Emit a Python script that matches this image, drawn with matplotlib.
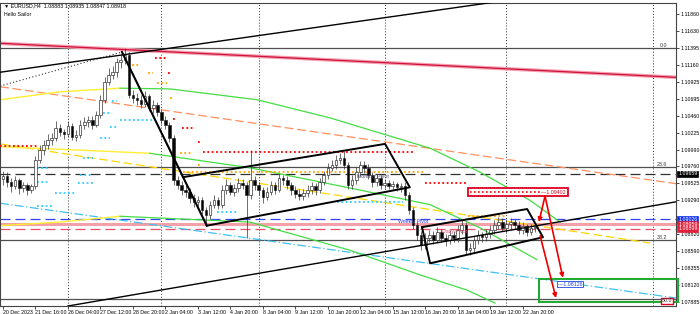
import matplotlib.pyplot as plt
from matplotlib.patches import Rectangle

plt.rcParams['font.family'] = ['Liberation Sans', 'DejaVu Sans']

# ---- candles (EURUSD H4), open = previous close ----
first_open = 1.0958
closes = [1.0963, 1.0954, 1.0949, 1.0957, 1.0946, 1.0950, 1.0943, 1.0949, 1.0985, 1.0999,
          1.1005, 1.1012, 1.1015, 1.1029, 1.1023, 1.1021, 1.1032, 1.1017, 1.1019, 1.1033,
          1.1037, 1.1040, 1.1033, 1.1047, 1.1068, 1.1093, 1.1102, 1.1106, 1.1120, 1.1123,
          1.1130, 1.1075, 1.1070, 1.1068, 1.1062, 1.1073, 1.1057, 1.1061, 1.1051, 1.1040,
          1.1033, 1.1015, 1.0957, 1.0950, 1.0943, 1.0941, 1.0932, 1.0927, 1.0929, 1.0916,
          1.0909, 1.0923, 1.0929, 1.0923, 1.0943, 1.0950, 1.0941, 1.0946, 1.0953, 1.0950,
          1.0936, 1.0957, 1.0950, 1.0943, 1.0934, 1.0941, 1.0950, 1.0943, 1.0960, 1.0957,
          1.0950, 1.0943, 1.0938, 1.0935, 1.0939, 1.0943, 1.0949, 1.0943, 1.0954, 1.0964,
          1.0974, 1.0978, 1.0985, 1.0988, 1.0978, 1.0950, 1.0957, 1.0968, 1.0978, 1.0974,
          1.0964, 1.0954, 1.0960, 1.0950, 1.0953, 1.0949, 1.0952, 1.0947, 1.0949, 1.0936,
          1.0916, 1.0895, 1.0881, 1.0867, 1.0877, 1.0881, 1.0874, 1.0885, 1.0877, 1.0874,
          1.0881, 1.0877, 1.0888, 1.0895, 1.0860, 1.0863, 1.0874, 1.0881, 1.0878, 1.0882,
          1.0888, 1.0895, 1.0899, 1.0891, 1.0896, 1.0899, 1.0895, 1.0888, 1.0894, 1.0885,
          1.0891, 1.0892]
highs = [1.0970, 1.0968, 1.0960, 1.0962, 1.0960, 1.0955, 1.0953, 1.0952, 1.0990, 1.1005,
         1.1012, 1.1020, 1.1022, 1.1038, 1.1034, 1.1028, 1.1038, 1.1036, 1.1026, 1.1040,
         1.1044, 1.1046, 1.1045, 1.1052, 1.1074, 1.1100, 1.1112, 1.1114, 1.1126, 1.1130,
         1.1139, 1.1134, 1.1082, 1.1078, 1.1074, 1.1080, 1.1076, 1.1068, 1.1065, 1.1055,
         1.1046, 1.1037, 1.1019, 1.0963, 1.0956, 1.0950, 1.0946, 1.0938, 1.0935, 1.0933,
         1.0920, 1.0928, 1.0936, 1.0934, 1.0950, 1.0958, 1.0955, 1.0952, 1.0960, 1.0958,
         1.0954, 1.0999, 1.0962, 1.0955, 1.0947, 1.0948, 1.0956, 1.0954, 1.0966, 1.0964,
         1.0962, 1.0955, 1.0949, 1.0944, 1.0945, 1.0950, 1.0955, 1.0953, 1.0960, 1.0970,
         1.0981, 1.0985, 1.0992, 1.0994, 1.0997, 1.0982, 1.0964, 1.0975, 1.0984, 1.0983,
         1.0979, 1.0968, 1.0966, 1.0964, 1.0958, 1.0957, 1.0956, 1.0955, 1.0953, 1.0954,
         1.0940, 1.0920, 1.0899, 1.0886, 1.0884, 1.0888, 1.0886, 1.0892, 1.0889, 1.0882,
         1.0888, 1.0886, 1.0895, 1.0903, 1.0899, 1.0870, 1.0880, 1.0888, 1.0885, 1.0889,
         1.0895, 1.0902, 1.0906, 1.0904, 1.0903, 1.0905, 1.0903, 1.0900, 1.0899, 1.0897,
         1.0896, 1.0894]
lows = [1.0950, 1.0948, 1.0940, 1.0945, 1.0938, 1.0941, 1.0937, 1.0939, 1.0945, 1.0980,
        1.0992, 1.1000, 1.1006, 1.1011, 1.1018, 1.1014, 1.1016, 1.1012, 1.1011, 1.1015,
        1.1028, 1.1031, 1.1028, 1.1030, 1.1043, 1.1064, 1.1088, 1.1096, 1.1100, 1.1112,
        1.1118, 1.1070, 1.1063, 1.1061, 1.1056, 1.1058, 1.1052, 1.1050, 1.1046, 1.1034,
        1.1027, 1.1010, 1.0950, 1.0944, 1.0937, 1.0934, 1.0926, 1.0920, 1.0921, 1.0910,
        1.0894, 1.0903, 1.0918, 1.0917, 1.0919, 1.0938, 1.0936, 1.0935, 1.0941, 1.0944,
        1.0877, 1.0931, 1.0943, 1.0937, 1.0926, 1.0929, 1.0936, 1.0938, 1.0940, 1.0950,
        1.0945, 1.0936, 1.0932, 1.0929, 1.0930, 1.0934, 1.0938, 1.0937, 1.0939, 1.0950,
        1.0959, 1.0969, 1.0972, 1.0979, 1.0972, 1.0944, 1.0945, 1.0952, 1.0962, 1.0967,
        1.0958, 1.0948, 1.0949, 1.0944, 1.0946, 1.0944, 1.0945, 1.0942, 1.0941, 1.0930,
        1.0910, 1.0889, 1.0874, 1.0861, 1.0862, 1.0872, 1.0868, 1.0870, 1.0871, 1.0866,
        1.0869, 1.0871, 1.0872, 1.0883, 1.0855, 1.0853, 1.0858, 1.0869, 1.0872, 1.0873,
        1.0877, 1.0883, 1.0890, 1.0886, 1.0885, 1.0890, 1.0889, 1.0882, 1.0883, 1.0880,
        1.0881, 1.0885]

x_labels = ['20 Dec 2023', '21 Dec 16:00', '26 Dec 04:00', '27 Dec 12:00', '28 Dec 20:00',
            '2 Jan 04:00', '3 Jan 12:00', '4 Jan 20:00', '8 Jan 04:00', '9 Jan 12:00',
            '10 Jan 20:00', '12 Jan 04:00', '15 Jan 12:00', '16 Jan 20:00', '18 Jan 04:00',
            '19 Jan 12:00', '22 Jan 20:00']
y_ticks = [1.11860, 1.11630, 1.11395, 1.11160, 1.10925, 1.10695, 1.10460, 1.10225,
           1.09990, 1.09760, 1.09525, 1.09290, 1.08820, 1.08590, 1.08355, 1.08120, 1.07885]
separators = [16, 39, 63, 94, 124, 160]

# ---- levels ----
fib_prices = [1.11395, 1.0975, 1.0874, 1.0792]
fib_labels = ['0.0', '23.6', '38.2', '']
monthly_pivot = 1.09659
weekly_pivot = 1.09026
pink_level = 1.08959
daily_pivot = 1.08899

# ---- trend lines (bar index, price) ----
red_line_x, red_line_y = [-0.7, 165.8], [1.1146, 1.1099]
upper_line_x, upper_line_y = [-0.7, 124.9], [1.1106, 1.1206]
dotted_line_x, dotted_line_y = [-0.7, 29.3], [1.1087, 1.1134]
lower_line_x, lower_line_y = [16.0, 165.8], [1.0783, 1.0927]
zigzag_x, zigzag_y = [29.3, 50.2], [1.1134, 1.0894]
chan1_x = [44.3, 94.1, 100.2, 50.2]
chan1_y = [1.0961, 1.1007, 1.0947, 1.0894]
chan2_x = [103.2, 129.1, 133.0, 105.2, 103.2]
chan2_y = [1.0892, 1.0917, 1.0878, 1.0842, 1.0892]
orange_x, orange_y = [-0.7, 165.8], [1.1086, 1.0952]
yellow_x, yellow_y = [-0.7, 159.4], [1.1007, 1.0870]
cyan_x, cyan_y = [-0.7, 165.8], [1.0925, 1.0794]

# curved bands: yellow part then green part
band_up_x = [-0.7, 14.0, 28.8, 41.1, 62.6, 80.5, 105.2, 117.5, 129.8, 137.2]
band_up_y = [1.1068, 1.1079, 1.1084, 1.1083, 1.1068, 1.1043, 1.1001, 1.0968, 1.0929, 1.0899]
band_mid_x = [-0.7, 16.5, 36.2, 60.8, 85.5, 105.2, 117.5, 131.5]
band_mid_y = [1.1003, 1.0999, 1.0994, 1.0974, 1.0946, 1.0923, 1.0891, 1.0847]
band_low_x = [-0.7, 14.0, 28.8, 60.8, 85.5, 102.7, 114.3, 121.2]
band_low_y = [1.0894, 1.0899, 1.0907, 1.0899, 1.0860, 1.0826, 1.0805, 1.0787]
band_split = 3

# dotted indicator segments: start bar, end bar, price
dot_start = [-0.7, 8.4, 8.4, 12.8, 8.4, 18.5, 19.0, 19.7, 23.9, 26.4, 24.6, 26.8, 28.8,
             31.8, 35.7, 37.9, 41.1, 43.6, 48.0, 37.4, 40.6, 41.9, 44.1, 48.0, 49.3,
             44.3, 52.7, 82.3, 104.0, 115.0, 114.5]
dot_end = [8.4, 11.6, 11.6, 17.7, 12.0, 22.2, 22.2, 22.2, 26.4, 28.1, 26.4, 28.1, 37.4,
           33.7, 36.9, 40.4, 41.6, 46.6, 48.4, 40.4, 41.1, 42.4, 46.8, 48.4, 101.0,
           103.4, 57.6, 98.5, 114.3, 132.3, 124.1]
dot_price = [1.1004, 1.0974, 1.0954, 1.0939, 1.0921, 1.0953, 1.0964, 1.0988, 1.1015, 1.1030,
             1.1050, 1.1066, 1.1040, 1.1116, 1.1105, 1.1091, 1.1070, 1.0994, 1.0978, 1.1126,
             1.1105, 1.1041, 1.1029, 1.1010, 1.0996, 1.0968, 1.0913, 1.0927, 1.0953, 1.0941,
             1.0907]
dot_kind = ['r', 'c', 'c', 'c', 'c', 'c', 'c', 'c', 'c', 'c', 'c', 'c', 'c',
            'o', 'o', 'o', 'o', 'o', 'o', 'r', 'r', 'r', 'r', 'r', 'r',
            'o', 'c', 'c', 'r', 'r', 'o']

# arrows and boxes
arrow_from = [(133.5, 1.0935), (133.5, 1.0935), (132.3, 1.0880)]
arrow_to = [(132.0, 1.0899), (137.9, 1.0822), (136.2, 1.0794)]
red_box = (114.5, 139.2, 1.0935, 1.0946)
red_box_label = '1.09402'
green_box = (132.0, 166.3, 1.0788, 1.0820)
target_bar, target_price, target_label = 136.7, 1.0813, '1.08126'

dot_colors = {'r': '#ff0000', 'c': '#33ccff', 'o': '#ffa500'}
fs = 3.8

fig = plt.figure(figsize=(7, 3.14), dpi=100)
ax = fig.add_axes([0, 8 / 314, 676 / 700, 303 / 314])
ax.set_xlim(-0.74, 165.76)
ax.set_ylim(1.0783, 1.12017)

for s in separators:
    ax.axvline(s, color='#333333', lw=0.7, ls=(0, (1, 2)), zorder=1)

for p in fib_prices:
    ax.axhline(p, color='#505050', lw=0.9, zorder=1)
for p, lab in zip(fib_prices, fib_labels):
    ax.text(163.5, p, lab, fontsize=fs, color='#333333', ha='right', va='bottom', zorder=6)

ax.axhline(monthly_pivot, color='#303030', lw=0.9, ls=(0, (8, 4)), zorder=1)
ax.axhline(weekly_pivot, color='#3344ee', lw=0.9, ls=(0, (8, 4)), zorder=1)
ax.axhline(pink_level, color='#f4a0a8', lw=2.2, zorder=1)
ax.axhline(daily_pivot, color='#e8506a', lw=0.9, ls=(0, (8, 4)), zorder=1)

ax.plot(red_line_x, red_line_y, color='#f4a0b0', lw=2.6, zorder=2)
ax.plot(red_line_x, red_line_y, color='#d0103a', lw=0.9, zorder=2)
ax.plot(orange_x, orange_y, color='#ff9060', lw=0.9, ls=(0, (7, 3)), zorder=2)
ax.plot(yellow_x, yellow_y, color='#ffd700', lw=0.9, ls=(0, (7, 3)), zorder=2)
ax.plot(cyan_x, cyan_y, color='#40c0f0', lw=0.9, ls=(0, (7, 2, 1, 2)), zorder=2)

for bx, by in [(band_up_x, band_up_y), (band_mid_x, band_mid_y), (band_low_x, band_low_y)]:
    ax.plot(bx[:band_split], by[:band_split], color='#ffee33', lw=1.0, zorder=2)
    ax.plot(bx[band_split - 1:], by[band_split - 1:], color='#44dd44', lw=0.9, zorder=2)

for s, e, p, k in zip(dot_start, dot_end, dot_price, dot_kind):
    ax.plot([s, e], [p, p], color=dot_colors[k], lw=1.3, ls=(0, (1, 1.4)),
            zorder=3)

# candles
opens = [first_open] + closes[:-1]
for i, (o, h, l, c) in enumerate(zip(opens, highs, lows, closes)):
    ax.vlines(i, l, h, color='#333333', lw=0.5, zorder=4)
    bull = c >= o
    lo, hi = min(o, c), max(o, c)
    ax.add_patch(Rectangle((i - 0.32, lo), 0.64, max(hi - lo, 0.00004),
                           facecolor='white' if bull else 'black',
                           edgecolor='#222222', lw=0.45, zorder=5))

ax.plot(dotted_line_x, dotted_line_y, color='#333333', lw=0.8, ls=(0, (1, 2)), zorder=6)
ax.plot(upper_line_x, upper_line_y, color='black', lw=1.0, zorder=6)
ax.plot(lower_line_x, lower_line_y, color='black', lw=1.0, zorder=6)
ax.plot(zigzag_x, zigzag_y, color='black', lw=1.5, zorder=6)
ax.plot(chan1_x, chan1_y, color='black', lw=1.4, zorder=6)
ax.plot(chan2_x, chan2_y, color='black', lw=1.4, zorder=6)

ax.text(87.2, monthly_pivot, 'Monthly Pivot', fontsize=fs, color='#444466',
        va='top', zorder=7)
ax.text(97.3, weekly_pivot, 'Weekly Pivot', fontsize=fs, color='#3344ee',
        va='top', zorder=7)
ax.text(108.1, daily_pivot, 'Daily Pivot', fontsize=fs, color='#e8506a',
        va='top', zorder=7)

x0, x1, y0, y1 = red_box
ax.add_patch(Rectangle((x0, y0), x1 - x0, y1 - y0, facecolor='white',
                       edgecolor='#e00020', lw=1.3, zorder=7))
ax.plot([x0 + 0.6, x1 - 7.0], [(y0 + y1) / 2] * 2, color='red', lw=1.2,
        ls=(0, (1, 1.4)), zorder=8)
ax.text(x1 - 6.8, (y0 + y1) / 2, '\u2014' + red_box_label, fontsize=fs,
        color='#e00020', va='center', zorder=8)

g0, g1, h0, h1 = green_box
ax.add_patch(Rectangle((g0, h0), g1 - g0, h1 - h0, facecolor='none',
                       edgecolor='#22aa33', lw=1.5, zorder=7, clip_on=False))
ax.text(target_bar, target_price, '\u2014' + target_label, fontsize=fs, color='#2244dd',
        va='center', zorder=8,
        bbox=dict(boxstyle='square,pad=0.1', fc='white', ec='#2244dd', lw=0.6))
ax.text(162.3, 1.0790, '50.0', fontsize=fs, color='#333333', va='center', zorder=8,
        clip_on=False,
        bbox=dict(boxstyle='square,pad=0.15', fc='white', ec='#e00020', lw=1.0))

for a, b in zip(arrow_from, arrow_to):
    ax.annotate('', xy=b, xytext=a, zorder=9,
                arrowprops=dict(arrowstyle='-|>', color='#ee0000', lw=1.2,
                                mutation_scale=6, shrinkA=0, shrinkB=0))

# axes styling
for side in ['top', 'bottom', 'left', 'right']:
    ax.spines[side].set_color('#444444')
    ax.spines[side].set_linewidth(0.8)
ax.set_xticks(range(0, len(x_labels) * 8, 8))
ax.set_xticklabels(x_labels)
for t in ax.get_xticklabels():
    t.set_ha('left')
ax.tick_params(axis='x', labelsize=fs, length=2, pad=1, width=0.5)
ax.yaxis.tick_right()
ax.set_yticks(y_ticks)
ax.set_yticklabels([f'{v:.5f}' for v in y_ticks])
ax.tick_params(axis='y', labelsize=fs, length=2, pad=1.5, width=0.5)

for price, label, fc in [(monthly_pivot, '1.09659', 'black'), (weekly_pivot, '1.09026', '#1133ee'),
                         (pink_level, '1.08959', '#e0203a'), (daily_pivot, '1.08899', '#e0203a')]:
    ax.annotate(label, xy=(1.0, price), xycoords=('axes fraction', 'data'),
                xytext=(1.5, 0), textcoords='offset points', fontsize=fs, color='white',
                va='center', annotation_clip=False,
                bbox=dict(boxstyle='square,pad=0.12', fc=fc, ec=fc, lw=0.5))

fig.text(4 / 700, 1 - 6 / 314, '\u25bc EURUSD,H4  1.08883 1.08935 1.08847 1.08918',
         fontsize=fs, va='center')
fig.text(4 / 700, 1 - 14 / 314, 'Hello Sailor', fontsize=fs, va='center')

fig.savefig('out.png', dpi=100)
